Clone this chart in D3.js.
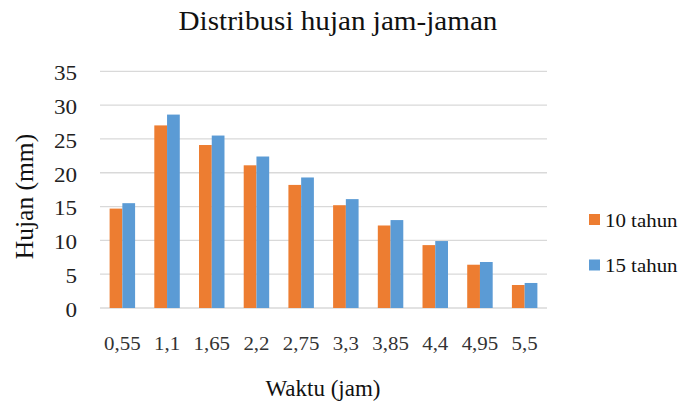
<!DOCTYPE html>
<html><head><meta charset="utf-8">
<script src="https://d3js.org/d3.v7.min.js"></script>
<style>body{margin:0;background:#fff}svg{display:block}svg text{font-family:"Liberation Serif","Times New Roman",serif !important}</style>
</head><body><svg id="c" width="679" height="403"></svg>
<script>
const categories = ["0,55","1,1","1,65","2,2","2,75","3,3","3,85","4,4","4,95","5,5"];
const series10 = [14.7,27.0,24.1,21.1,18.2,15.2,12.2,9.3,6.4,3.4];
const series15 = [15.5,28.6,25.5,22.4,19.3,16.1,13.0,9.9,6.8,3.7];
const seriesNames = ["10 tahun","15 tahun"];
const colors = ["#ED7D31","#5B9BD5"];
const yTicks = [0,5,10,15,20,25,30,35];

(function(){
const SX = 1.1;
const svg = d3.select("#c");
const pLeft=100,pRight=547,pTop=71.3,pBottom=308;
const x = d3.scaleBand().domain(categories).range([pLeft,pRight]).paddingInner(0.43).paddingOuter(0.215);
const xs = d3.scaleBand().domain([0,1]).range([0,x.bandwidth()]);
const y = d3.scaleLinear().domain([0,35]).range([pBottom,pTop]);

svg.append("g").selectAll("line").data(yTicks).join("line")
  .attr("x1",pLeft).attr("x2",pRight).attr("y1",d=>y(d)).attr("y2",d=>y(d))
  .attr("stroke","#D9D9D9").attr("stroke-width",1.3);

const yAxis = d3.axisLeft(y).tickValues(yTicks).tickSize(0).tickPadding(0).tickFormat(d3.format("d"));
const ya = svg.append("g").attr("transform",`translate(77,0)`).call(yAxis);
ya.select(".domain").remove();
ya.selectAll("text").attr("x",0).attr("dy","0.4em").attr("font-size",21).attr("fill","#222")
  .attr("transform",`scale(${SX},1)`);

const data = categories.map((c,i)=>({c,vals:[series10[i],series15[i]]}));
const g = svg.append("g");
data.forEach(d=>{
  d.vals.forEach((v,k)=>{
    g.append("rect").attr("x",x(d.c)+xs(k)).attr("width",xs.bandwidth())
      .attr("y",y(v)).attr("height",y(0)-y(v)).attr("fill",colors[k]);
  });
});

const xAxis = d3.axisBottom(x).tickSize(0).tickPadding(0);
const xa = svg.append("g").attr("transform",`translate(0,350)`).call(xAxis);
xa.select(".domain").remove();
xa.selectAll("text").attr("y",0).attr("dy",0).attr("font-size",19).attr("fill","#333")
  .attr("transform",`scale(${SX},1)`);

svg.append("text").attr("transform",`translate(338,30) scale(${SX},1)`).attr("text-anchor","middle")
  .attr("font-size",26.5).attr("fill","#111").text("Distribusi hujan jam-jaman");
svg.append("text").attr("transform",`translate(323,396)`).attr("text-anchor","middle")
  .attr("font-size",23).attr("fill","#111").text("Waktu (jam)");
svg.append("text").attr("transform",`translate(33,196.5) rotate(-90)`).attr("text-anchor","middle")
  .attr("font-size",25.5).attr("fill","#111").text("Hujan (mm)");

const lg = svg.append("g");
seriesNames.forEach((n,i)=>{
  const ly = 219.5 + i*45.5;
  lg.append("rect").attr("x",589).attr("y",ly-5.5).attr("width",11).attr("height",11).attr("fill",colors[i]);
  lg.append("text").attr("transform",`translate(605,${ly+7}) scale(${SX},1)`).attr("font-size",19).attr("fill","#111").text(n);
});
})();
</script></body></html>
